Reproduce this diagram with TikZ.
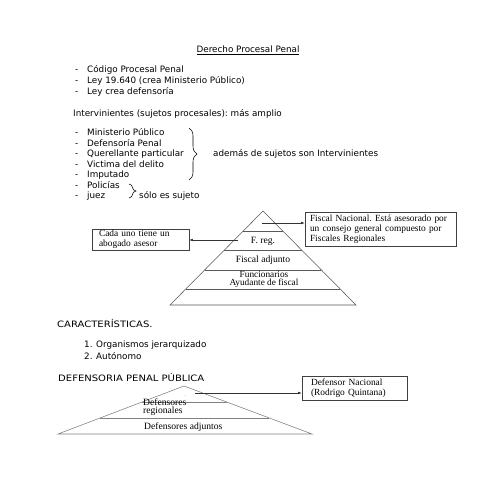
\documentclass[tikz,border=0pt]{standalone}
\usepackage{fontspec}
\setmainfont{Liberation Serif}
\newfontfamily\comicf{DejaVu Sans}
\newfontfamily\comicw[FakeStretch=1.14]{DejaVu Sans}
\usetikzlibrary{arrows.meta,calc,decorations.pathreplacing}
\frenchspacing
\begin{document}
\frenchspacing
\begin{tikzpicture}[x=1pt,y=-1pt,
  ctext/.style={font=\comicf\fontsize{8.8}{10.5}\selectfont, inner sep=0pt, anchor=mid west},
  capstext/.style={font=\comicw\fontsize{8.8}{10.5}\selectfont, inner sep=0pt, anchor=mid west},
  ttext/.style={font=\fontsize{9.6}{10}\selectfont, inner sep=0pt},
  tbox/.style={draw=black!75, line width=0.6pt, font=\fontsize{9.4}{10}\selectfont, align=left, inner ysep=0pt},
  pyrone/.style={draw=black!65, line width=0.55pt},
  pyrtwo/.style={draw=black!50, line width=0.55pt},
  arr/.style={draw=black!80, line width=0.55pt, -{Latex[length=3.5pt,width=2.6pt]}},
  brc/.style={draw=black, line width=0.55pt, decorate}
]
\fill[white] (0,0) rectangle (495,495);
\useasboundingbox (0,0) rectangle (495,495);

% ---- top text ----
\node[ctext, anchor=mid] (title) at (248,50) {\underline{Derecho Procesal Penal}};
\node[ctext] (da1) at (75,70) {-};
\node[ctext] (la1) at (87,70) {Código Procesal Penal};
\node[ctext] (da2) at (75,81.5) {-};
\node[ctext] (la2) at (87,81.5) {Ley 19.640 (crea Ministerio Público)};
\node[ctext] (da3) at (75,92.5) {-};
\node[ctext] (la3) at (87,92.5) {Ley crea defensoría};

\node[ctext] (interv) at (73,114) {Intervinientes (sujetos procesales): más amplio};

\node[ctext] (db1) at (75,133.5) {-};
\node[ctext] (lb1) at (87,133.5) {Ministerio Público};
\node[ctext] (db2) at (75,144) {-};
\node[ctext] (lb2) at (87,144) {Defensoría Penal};
\node[ctext] (db3) at (75,154.5) {-};
\node[ctext] (lb3) at (87,154.5) {Querellante particular};
\node[ctext] (db4) at (75,165) {-};
\node[ctext] (lb4) at (87,165) {Victima del delito};
\node[ctext] (db5) at (75,175.5) {-};
\node[ctext] (lb5) at (87,175.5) {Imputado};
\node[ctext] (db6) at (75,186) {-};
\node[ctext] (lb6) at (87,186) {Policías};
\node[ctext] (db7) at (75,196.5) {-};
\node[ctext] (lb7) at (87,196.5) {juez};

\coordinate (bra) at (189,128);
\coordinate (brb) at (189,180);
\draw[brc, decoration={brace, amplitude=8pt}] (bra) -- (brb);
\node[ctext] (ademas) at (213,154.5) {además de sujetos son Intervinientes};

\coordinate (bsa) at (129,184);
\coordinate (bsb) at (129,198);
\draw[brc, decoration={brace, amplitude=7pt}] (bsa) -- (bsb);
\node[ctext] (solo) at (139,196.5) {sólo es sujeto};

% ---- pyramid 1 ----
\coordinate (pa) at (263,211);
\coordinate (pl) at (170,305);
\coordinate (pr) at (356,305);
\draw[pyrone] (pa) -- (pl) -- (pr) -- cycle;
\foreach \d in {20,39,59,78}
  \draw[pyrone] ($(pa)!{\d/94}!(pl)$) -- ($(pa)!{\d/94}!(pr)$);

\node[ttext] (freg) at (263,241) {F. reg.};
\node[ttext] (fadj) at (263,260) {Fiscal adjunto};
\node[ttext, align=center, font=\fontsize{9.3}{8}\selectfont] (func) at (264,279) {Funcionarios\\Ayudante de fiscal};

\node[tbox, minimum width=151pt, minimum height=34pt, text width=141pt, inner xsep=5pt] (fn) at (380.5,229)
  {Fiscal Nacional. Está asesorado por\\un consejo general compuesto por\\Fiscales Regionales};
\node[tbox, minimum width=97pt, minimum height=21pt, text width=83pt, inner xsep=7pt] (cada) at (140.5,239.5)
  {Cada uno tiene un\\abogado asesor};

\coordinate (s1) at (262,223);
\draw[arr] (s1) -- (s1 -| fn.west);
\coordinate (s2) at (238,240);
\draw[arr] (s2) -- (s2 -| cada.east);

% ---- characteristics ----
\node[capstext] (car) at (57,325) {CARACTERÍSTICAS.};
\node[ctext] (n1) at (84,345.5) {1.};
\node[ctext] (c1) at (96,345.5) {Organismos jerarquizado};
\node[ctext] (n2) at (84,357) {2.};
\node[ctext] (c2) at (96,357) {Autónomo};

\node[capstext] (dpp) at (58,379) {DEFENSORIA PENAL PÚBLICA};

% ---- pyramid 2 ----
\coordinate (qa) at (184,386);
\coordinate (ql) at (58,434);
\coordinate (qr) at (312,434);
\draw[pyrtwo] (qa) -- (ql) -- (qr) -- cycle;
\foreach \d in {16,32}
  \draw[pyrtwo] ($(qa)!{\d/48}!(ql)$) -- ($(qa)!{\d/48}!(qr)$);

\node[ttext, font=\fontsize{4}{4}\selectfont] (dot) at (185,396) {.};
\node[ttext, anchor=mid west, align=left, font=\fontsize{9.6}{8.6}\selectfont] (dreg) at (143,411.5) {Defensores\\regionales};
\node[ttext, anchor=mid west] (dadj) at (144,427.5) {Defensores adjuntos};

\node[tbox, minimum width=105pt, minimum height=24pt, text width=87pt, inner xsep=9pt] (dn) at (354.5,388)
  {Defensor Nacional\\(Rodrigo Quintana)};
\coordinate (s3) at (195,393);
\draw[arr] (s3) -- (s3 -| dn.west);
\end{tikzpicture}
\end{document}
